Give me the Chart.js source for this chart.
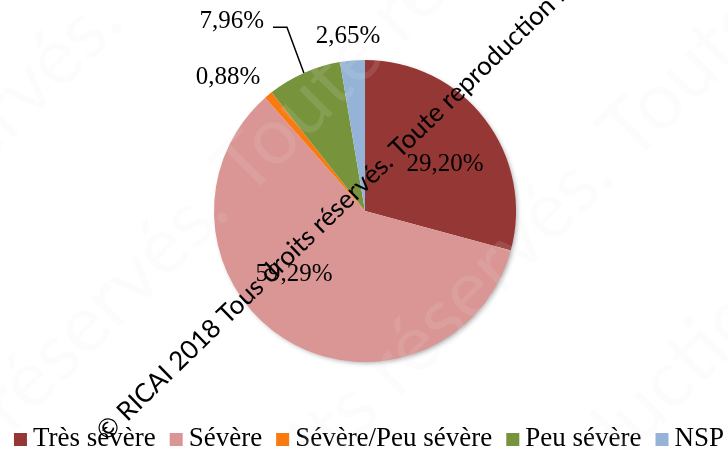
<!DOCTYPE html>
<html>
<head>
<meta charset="utf-8">
<script src="https://cdn.jsdelivr.net/npm/chart.js@4/dist/chart.umd.min.js"></script>
<style>
  html, body { margin: 0; padding: 0; background: #fff; }
  #wrap { width: 728px; height: 450px; position: relative; }
</style>
</head>
<body>
<div id="wrap"><canvas id="pieChart"></canvas></div>
<script>
const categories = ["Très sévère", "Sévère", "Sévère/Peu sévère", "Peu sévère", "NSP"];
const percents = [29.20, 59.29, 0.88, 7.96, 2.65];
const valueLabels = ["29,20%", "59,29%", "0,88%", "7,96%", "2,65%"];
const sliceColors = ["#953735", "#D99694", "#F97A10", "#77933C", "#95B3D7"];

// where each value label sits: radius factor from center, then a pixel nudge
const labelSpots = [
  { k: 0.6, dx: 8, dy: 9 },
  { k: 0.6, dx: -23, dy: -13 },
  { k: 1.2, dx: -21, dy: 6 },
  { k: 1.2, dx: -60, dy: -24, leader: true },
  { k: 1.2, dx: -2, dy: 6 },
];

const serif = "'Liberation Serif', 'Times New Roman', serif";

// soft shadow under the pie, like the office chart
const pieShadowPlugin = {
  id: "pieShadow",
  beforeDatasetsDraw(chart) {
    const arc = chart.getDatasetMeta(0).data[0];
    if (!arc) return;
    const p = arc.getProps(["x", "y", "outerRadius"], true);
    const ctx = chart.ctx;
    ctx.save();
    ctx.shadowColor = "rgba(0,0,0,0.35)";
    ctx.shadowBlur = 5;
    ctx.shadowOffsetX = 2;
    ctx.shadowOffsetY = 2;
    ctx.fillStyle = "#fff";
    ctx.beginPath();
    ctx.arc(p.x, p.y, p.outerRadius - 1, 0, Math.PI * 2);
    ctx.fill();
    ctx.restore();
  },
};

const valueLabelPlugin = {
  id: "valueLabels",
  afterDatasetsDraw(chart) {
    const ctx = chart.ctx;
    const meta = chart.getDatasetMeta(0);
    ctx.save();
    ctx.font = "25px " + serif;
    ctx.fillStyle = "#000";
    ctx.textAlign = "center";
    ctx.textBaseline = "middle";
    meta.data.forEach((arc, i) => {
      const p = arc.getProps(["x", "y", "startAngle", "endAngle", "outerRadius"], true);
      const mid = (p.startAngle + p.endAngle) / 2;
      const spot = labelSpots[i];
      const lx = p.x + Math.cos(mid) * p.outerRadius * spot.k + spot.dx;
      const ly = p.y + Math.sin(mid) * p.outerRadius * spot.k + spot.dy;
      ctx.fillText(valueLabels[i], lx, ly);
      if (spot.leader) {
        const w = ctx.measureText(valueLabels[i]).width;
        const ex = p.x + Math.cos(mid) * p.outerRadius;
        const ey = p.y + Math.sin(mid) * p.outerRadius;
        ctx.beginPath();
        ctx.strokeStyle = "#000";
        ctx.lineWidth = 1.5;
        ctx.moveTo(lx + w / 2 + 9, ly + 6);
        ctx.lineTo(lx + w / 2 + 23, ly + 6);
        ctx.lineTo(ex, ey);
        ctx.stroke();
      }
    });
    ctx.restore();
  },
};

// legend row at the bottom, tighter than the built-in one
const legendRowPlugin = {
  id: "legendRow",
  afterDatasetsDraw(chart) {
    const ctx = chart.ctx;
    const box = 13, gapText = 6, gapItem = 14;
    ctx.save();
    ctx.font = "27px " + serif;
    ctx.textBaseline = "alphabetic";
    const widths = categories.map(c => ctx.measureText(c).width);
    let total = 0;
    widths.forEach((w, i) => { total += box + gapText + w + (i < widths.length - 1 ? gapItem : 0); });
    let x = 369 - total / 2;
    const base = 446;
    categories.forEach((c, i) => {
      ctx.fillStyle = sliceColors[i];
      ctx.fillRect(x, base - 13, box, box);
      x += box + gapText;
      ctx.fillStyle = "#000";
      ctx.fillText(c, x, base);
      x += widths[i] + gapItem;
    });
    ctx.restore();
  },
};

// faint background watermark + dark copyright line across the chart
const watermarkPlugin = {
  id: "watermark",
  afterDraw(chart) {
    const ctx = chart.ctx;
    const big = "© RICAI 2018 Tous droits réservés. Toute reproduction même partielle interdite. ";
    ctx.save();
    ctx.font = "80px Lato, 'Open Sans', sans-serif";
    ctx.fillStyle = "rgba(235,235,235,0.13)";
    ctx.textBaseline = "middle";
    const rows = [
      { x: -20, y: 135, shift: -1050 },
      { x: -20, y: 430, shift: -900 },
      { x: 330, y: 430, shift: -850 },
      { x: 620, y: 430, shift: -1700 },
    ];
    rows.forEach(r => {
      ctx.save();
      ctx.translate(r.x, r.y);
      ctx.rotate(-Math.PI / 4);
      ctx.fillText(big + big + big, r.shift, 0);
      ctx.restore();
    });
    ctx.restore();

    ctx.save();
    ctx.translate(101, 436);
    ctx.rotate(-44 * Math.PI / 180);
    ctx.font = "26px Lato, 'Open Sans', sans-serif";
    ctx.fillStyle = "#000";
    ctx.textBaseline = "middle";
    ctx.fillText("© RICAI 2018 Tous droits réservés. Toute reproduction même partielle interdite", 0, 0);
    ctx.restore();
  },
};

new Chart(document.getElementById("pieChart"), {
  type: "pie",
  data: {
    labels: categories,
    datasets: [{
      data: percents,
      backgroundColor: sliceColors,
      borderWidth: 0,
      radius: 151,
    }],
  },
  options: {
    responsive: true,
    maintainAspectRatio: false,
    animation: false,
    layout: { padding: { top: 0, left: 2, right: 0, bottom: 28 } },
    plugins: {
      tooltip: { enabled: false },
      legend: { display: false },
    },
  },
  plugins: [pieShadowPlugin, valueLabelPlugin, legendRowPlugin, watermarkPlugin],
});
</script>
</body>
</html>
